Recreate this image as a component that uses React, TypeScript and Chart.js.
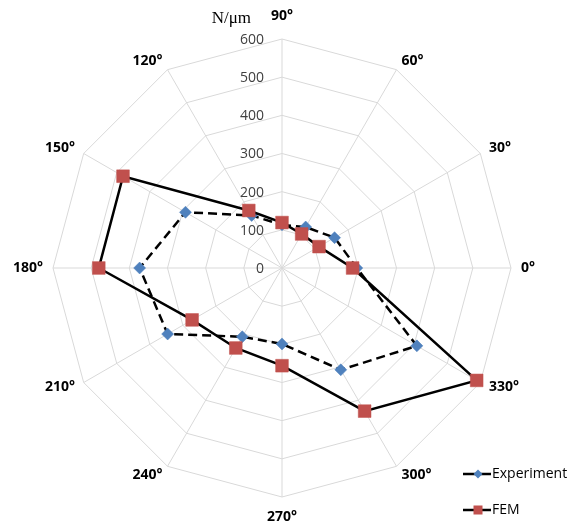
import React, { useEffect, useRef } from "react";
import { Chart, registerables } from "chart.js";

Chart.register(...registerables);

const angleLabels = ["90°", "60°", "30°", "0°", "330°", "300°", "270°", "240°", "210°", "180°", "150°", "120°"];
const experiment = [113, 124, 159, 196, 408, 308, 199, 208, 346, 373, 292, 159];
const fem = [119, 103, 112, 185, 589, 433, 256, 242, 272, 480, 481, 174];
const axisTitle = "N/μm";
const scaleMin = 0;
const scaleMax = 600;
const scaleStep = 100;

const BLUE = "#4F81BD";
const RED = "#C0504D";
const GRID = "#D9D9D9";

const overlayPlugin = {
  id: "overlay",
  afterDraw(chart: any) {
    const ctx = chart.ctx;
    const s = chart.scales.r;
    const R = s.drawingArea;
    ctx.save();
    // tick labels
    ctx.font = "14px 'Open Sans'";
    ctx.fillStyle = "#404040";
    ctx.textAlign = "right";
    ctx.textBaseline = "middle";
    s.ticks.forEach((t: any) => {
      const d = s.getDistanceFromCenterForValue(t.value);
      ctx.fillText(String(t.value), s.xCenter - 18, s.yCenter - d + 1);
    });
    // point labels
    ctx.font = "bold 14px 'Open Sans'";
    ctx.fillStyle = "#000000";
    angleLabels.forEach((lab, i) => {
      const p = s.getPointPosition(i, R + 10);
      const dx = p.x - s.xCenter;
      let y = p.y;
      if (Math.abs(dx) < 2) {
        ctx.textAlign = "center";
        if (p.y < s.yCenter) y -= 13;
        else y += 10;
      } else if (dx > 0) {
        ctx.textAlign = "left";
      } else {
        ctx.textAlign = "right";
      }
      ctx.textBaseline = "middle";
      ctx.fillText(lab, p.x, y);
    });
    // axis title
    ctx.font = "17px 'Liberation Serif'";
    ctx.fillStyle = "#000000";
    ctx.textAlign = "right";
    ctx.textBaseline = "middle";
    ctx.fillText(axisTitle, s.xCenter - 31, 19);

    // legend
    const lx = 463;
    const items = [
      { text: "Experiment", y: 474, color: BLUE, style: "diamond" },
      { text: "FEM", y: 510, color: RED, style: "square" },
    ];
    items.forEach((it) => {
      ctx.strokeStyle = "#000000";
      ctx.lineWidth = 2.5;
      ctx.beginPath();
      ctx.moveTo(lx, it.y);
      ctx.lineTo(lx + 28, it.y);
      ctx.stroke();
      ctx.fillStyle = it.color;
      const cx = lx + 15;
      if (it.style === "diamond") {
        ctx.beginPath();
        ctx.moveTo(cx - 4.5, it.y);
        ctx.lineTo(cx, it.y - 4.5);
        ctx.lineTo(cx + 4.5, it.y);
        ctx.lineTo(cx, it.y + 4.5);
        ctx.closePath();
        ctx.fill();
      } else {
        ctx.fillRect(cx - 4.5, it.y - 4.5, 9, 9);
      }
      ctx.font = "14px 'Open Sans'";
      ctx.fillStyle = "#000000";
      ctx.textAlign = "left";
      ctx.textBaseline = "middle";
      ctx.fillText(it.text, lx + 29, it.y);
    });
    ctx.restore();
  },
};

export default function App() {
  const ref = useRef<HTMLCanvasElement>(null);
  useEffect(() => {
    if (!ref.current) return;
    const chart = new Chart(ref.current, {
      type: "radar",
      data: {
        labels: angleLabels,
        datasets: [
          {
            label: "FEM",
            data: fem,
            order: 0,
            borderColor: "#000000",
            borderWidth: 2.5,
            fill: false,
            pointStyle: "rect",
            pointRadius: 9,
            pointBackgroundColor: RED,
            pointBorderColor: RED,
            pointBorderWidth: 0.5,
          },
          {
            label: "Experiment",
            data: experiment,
            order: 1,
            borderColor: "#000000",
            borderWidth: 2.5,
            borderDash: [9, 5],
            fill: false,
            pointStyle: "rectRot",
            pointRadius: 6,
            pointBackgroundColor: BLUE,
            pointBorderColor: BLUE,
            pointBorderWidth: 0.5,
          },
        ],
      },
      options: {
        responsive: false,
        animation: false,
        plugins: { legend: { display: false }, tooltip: { enabled: false } },
        elements: { line: { tension: 0 } },
        scales: {
          r: {
            min: scaleMin,
            max: scaleMax,
            ticks: { display: false, stepSize: scaleStep },
            grid: { color: GRID, lineWidth: 1, circular: false },
            angleLines: { color: GRID, lineWidth: 1 },
            pointLabels: { display: false },
            afterFit: (scale: any) => {
              scale.xCenter = 282;
              scale.yCenter = 268;
              scale.drawingArea = 229;
            },
          },
        },
      },
      plugins: [overlayPlugin],
    });
    return () => chart.destroy();
  }, []);
  return (
    <div style={{ position: "fixed", left: 0, top: 0, width: 570, height: 525, background: "#fff" }}>
      <canvas ref={ref} width={570} height={525} />
    </div>
  );
}
